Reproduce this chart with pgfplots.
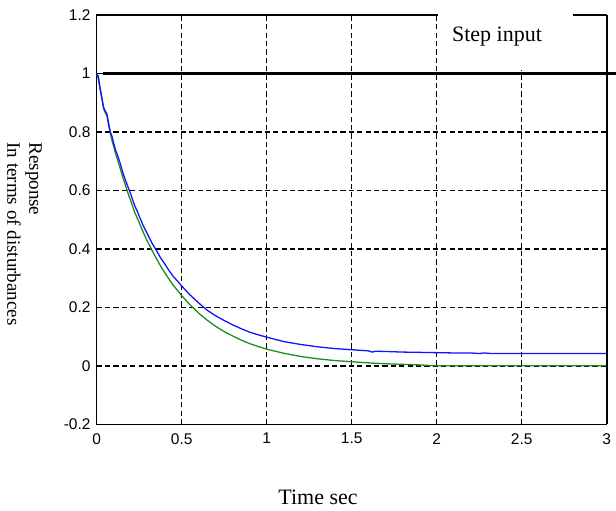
\documentclass[border=0pt]{standalone}
\usepackage{pgfplots}
\pgfplotsset{compat=1.18}
\usepackage{fontspec}
\setmainfont{Liberation Serif}
\newfontfamily\ticksans{Liberation Sans}
\definecolor{mgreen}{RGB}{30,140,30}
\definecolor{mblue}{RGB}{20,20,255}
\begin{document}
\begin{tikzpicture}
\begin{axis}[
  scale only axis,
  width=255pt, height=204.65pt,
  xmin=0, xmax=3, ymin=-0.2, ymax=1.2,
  xtick={0,0.5,1,1.5,2,2.5,3},
  ytick={-0.2,0,0.2,0.4,0.6,0.8,1,1.2},
  major tick length=0pt,
  grid=major,
  major grid style={black, line width=0.7pt, dash pattern=on 2.6pt off 1.6pt},
  axis line style={black, line width=0.75pt},
  /pgf/number format/assume math mode=true,
  ticklabel style={font=\ticksans\fontsize{7.75}{9}\selectfont},
  xticklabel style={inner sep=0pt, anchor=north, yshift=-4.3pt},
  yticklabel style={inner sep=0pt, anchor=east, xshift=-2.9pt},
  clip=false,
  xlabel={Time sec},
  xlabel style={font=\fontsize{11}{13}\selectfont, at={(axis cs:1.302,-0.2)}, anchor=base, yshift=-40.3pt, inner sep=0pt},
]
\coordinate (sw) at (rel axis cs:0,0);
\coordinate (ne) at (rel axis cs:1,1);
% green response
\addplot[mgreen, line width=0.65pt] coordinates {
(0,1) (0.01,0.98) (0.02,0.945) (0.03,0.915) (0.04,0.88) (0.05,0.866) (0.06,0.855) (0.07,0.822) (0.08,0.795) (0.09,0.77) (0.1,0.75) (0.11,0.728) (0.125,0.70) (0.14,0.672) (0.15,0.652) (0.16,0.633) (0.175,0.607) (0.19,0.58) (0.2,0.565) (0.21,0.548) (0.225,0.523) (0.24,0.503) (0.25,0.49) (0.275,0.455) (0.3,0.424) (0.325,0.395) (0.35,0.368) (0.375,0.342) (0.4,0.319) (0.425,0.297) (0.45,0.276) (0.475,0.258) (0.5,0.24) (0.55,0.208) (0.6,0.18) (0.65,0.156) (0.7,0.135) (0.75,0.117) (0.8,0.102) (0.85,0.088) (0.9,0.076) (0.95,0.066) (1.0,0.057) (1.1,0.043) (1.2,0.032) (1.3,0.024) (1.4,0.018) (1.5,0.014) (1.6,0.010) (1.7,0.007) (1.8,0.005) (1.9,0.003) (2.0,0.0) (3.0,0.0)
};
% blue response
\addplot[mblue, line width=0.65pt] coordinates {
(0,1) (0.01,0.99) (0.02,0.95) (0.03,0.92) (0.04,0.885) (0.05,0.872) (0.06,0.862) (0.07,0.83) (0.08,0.80) (0.09,0.785) (0.1,0.762) (0.11,0.74) (0.125,0.716) (0.14,0.69) (0.15,0.668) (0.16,0.65) (0.175,0.626) (0.19,0.603) (0.2,0.588) (0.21,0.57) (0.225,0.546) (0.24,0.527) (0.25,0.512) (0.275,0.478) (0.3,0.449) (0.325,0.42) (0.35,0.396) (0.375,0.37) (0.4,0.349) (0.425,0.326) (0.45,0.306) (0.475,0.29) (0.5,0.273) (0.55,0.242) (0.6,0.215) (0.65,0.19) (0.7,0.171) (0.75,0.155) (0.8,0.14) (0.85,0.127) (0.9,0.115) (0.95,0.106) (1.0,0.098) (1.1,0.083) (1.2,0.073) (1.3,0.065) (1.4,0.059) (1.5,0.055) (1.6,0.051) (1.62,0.047) (1.64,0.050) (1.7,0.049) (1.8,0.047) (1.9,0.046) (2.0,0.045) (2.1,0.044) (2.2,0.044) (2.25,0.042) (2.28,0.044) (2.32,0.042) (2.5,0.042) (3.0,0.042)
};
% step input
\addplot[black, line width=0.6pt] coordinates {(0,1) (0.04,1)};
\addplot[black, line width=1.6pt] coordinates {(0.038,1) (3.055,1)};
% right frame edge
\draw[black, line width=1pt] (rel axis cs:1,0) -- (rel axis cs:1,1);
% legend box
\fill[white] (axis cs:2.005,1.012) rectangle (axis cs:2.8,1.25);
\node[anchor=base west, inner sep=0pt, font=\fontsize{11}{13}\selectfont] at (axis cs:2.088,1.109) {Step input};
% y label (two lines)
\node[rotate=-90, anchor=base west, inner sep=0pt, font=\fontsize{9.5}{11}\selectfont] at ([xshift=-33.6pt]axis cs:0,0.765) {Response};
\node[rotate=-90, anchor=base west, inner sep=0pt, font=\fontsize{9.5}{11}\selectfont] at ([xshift=-44.6pt]axis cs:0,0.765) {In terms of disturbances};
\end{axis}
\pgfresetboundingbox
\path[use as bounding box] ([xshift=-48.35pt,yshift=-43.35pt]sw) rectangle ([xshift=4.65pt,yshift=7.5pt]ne);
\end{tikzpicture}
\end{document}
